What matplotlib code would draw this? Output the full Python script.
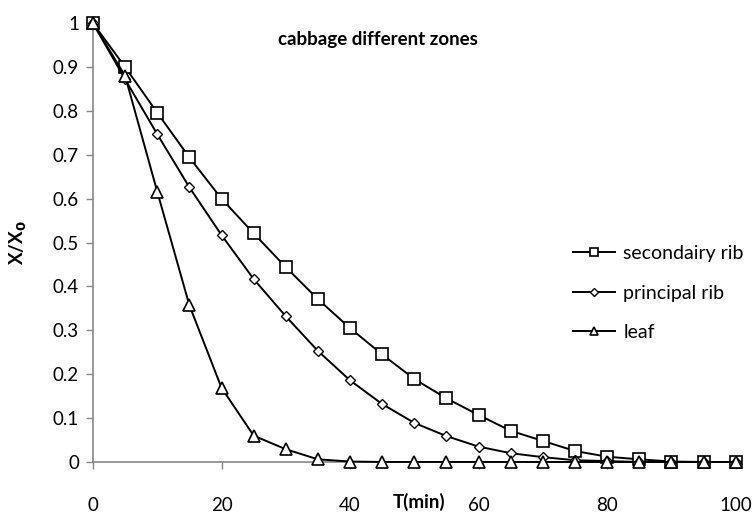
import numpy as np
import matplotlib.pyplot as plt

plt.rcParams['font.family'] = ['Lato', 'DejaVu Sans']

t = [0, 5, 10, 15, 20, 25, 30, 35, 40, 45, 50, 55, 60, 65, 70, 75, 80, 85, 90, 95, 100]
secondary = [1, 0.90, 0.796, 0.694, 0.60, 0.521, 0.444, 0.371, 0.305, 0.245, 0.189, 0.145,
             0.107, 0.071, 0.048, 0.025, 0.012, 0.006, 0.001, 0.0, 0.0]
principal = [1, 0.872, 0.747, 0.626, 0.517, 0.417, 0.332, 0.253, 0.186, 0.132, 0.089, 0.059,
             0.035, 0.020, 0.011, 0.004, 0.002, 0.0, 0.0, 0.0, 0.0]
leaf = [1, 0.88, 0.616, 0.357, 0.169, 0.06, 0.029, 0.006, 0.001, 0.0, 0.0, 0.0,
        0.0, 0.0, 0.0, 0.0, 0.0, 0.0, 0.0, 0.0, 0.0]

fig = plt.figure(figsize=(7.53, 5.16), dpi=100)
ax = fig.add_axes([0.1235, 0.1047, 0.8535, 0.8503])

ax.plot(t, secondary, color='black', lw=1.4, marker='s', ms=8, mfc='white', mec='black',
        mew=1.2, label='secondairy rib', clip_on=False, zorder=3)
ax.plot(t, principal, color='black', lw=1.4, marker='D', ms=5.5, mfc='white', mec='black',
        mew=1.0, label='principal rib', clip_on=False, zorder=3)
ax.plot(t, leaf, color='black', lw=1.4, marker='^', ms=8, mfc='white', mec='black',
        mew=1.2, label='leaf', clip_on=False, zorder=3)

ax.set_xlim(0, 100)
ax.set_ylim(0, 1)
ax.set_xticks([0, 20, 40, 60, 80, 100])
ax.set_yticks(np.arange(0, 1.01, 0.1))
ax.set_yticklabels(['0', '0.1', '0.2', '0.3', '0.4', '0.5', '0.6', '0.7', '0.8', '0.9', '1'])
ax.tick_params(axis='x', direction='out', length=5, width=1, color='#888888', pad=20, labelsize=13.5)
ax.tick_params(axis='y', direction='out', length=5, width=1, color='#888888', pad=5, labelsize=13.5)

for s in ['top', 'right']:
    ax.spines[s].set_visible(False)
for s in ['left', 'bottom']:
    ax.spines[s].set_color('#888888')
    ax.spines[s].set_linewidth(1.2)

ax.set_xlabel('T(min)', fontsize=13.5, fontweight='bold')
ax.xaxis.set_label_coords(0.508, -0.07)
ax.set_ylabel('X/X$_\\mathbf{0}$', fontsize=13.5, fontweight='bold')
ax.yaxis.set_label_coords(-0.1, 0.5)

ax.text(0.443, 0.963, 'cabbage different zones', transform=ax.transAxes, ha='center',
        va='center', fontsize=13.5, fontweight='bold')

ax.legend(loc='center left', bbox_to_anchor=(0.7465, 0.385), frameon=False, fontsize=14,
          handlelength=2.15, labelspacing=1.15, markerscale=0.75, handletextpad=0.45,
          borderaxespad=0, borderpad=0)

fig.savefig('out.png', dpi=100)
